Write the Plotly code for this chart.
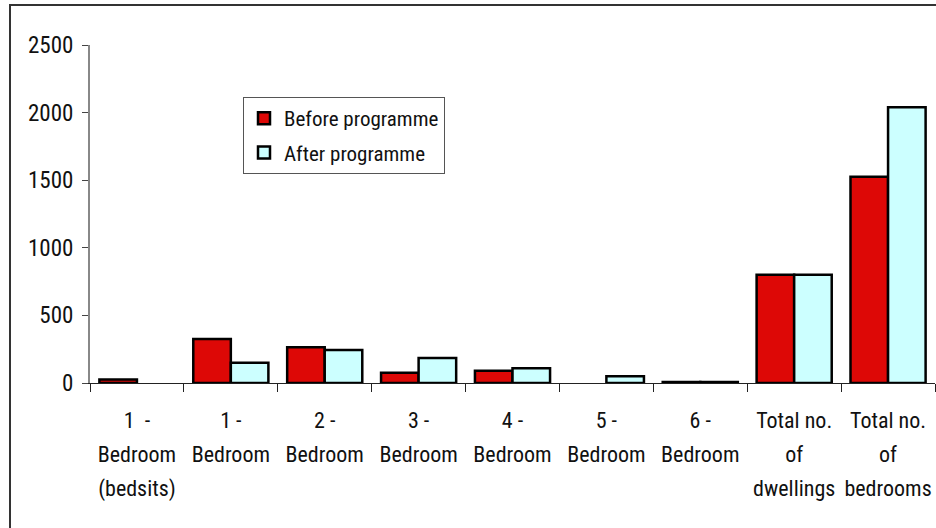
import plotly.graph_objects as go

category_lines = [["1  -", "Bedroom", "(bedsits)"], ["1 -", "Bedroom"], ["2 -", "Bedroom"],
                  ["3 -", "Bedroom"], ["4 -", "Bedroom"], ["5 -", "Bedroom"], ["6 -", "Bedroom"],
                  ["Total no.", "of", "dwellings"], ["Total no.", "of", "bedrooms"]]
before = [25, 325, 265, 75, 90, None, 8, 800, 1525]
after = [None, 150, 245, 185, 110, 50, 8, 800, 2040]
y_ticks = [0, 500, 1000, 1500, 2000, 2500]

categories = [" ".join(c) for c in category_lines]
tick_text = ["<br>".join("<span style='font-size:22px'>%s</span>" % s for s in c) for c in category_lines]

FONT = "Liberation Sans Narrow, Arial Narrow, Roboto Condensed, DejaVu Sans Condensed, sans-serif"

fig = go.Figure()
fig.add_trace(go.Bar(x=categories, y=before, name="Before programme", legendgroup="a",
                     marker=dict(color="#DD0806", line=dict(color="black", width=2.5))))
fig.add_trace(go.Bar(x=categories, y=after, name="After programme", legendgroup="b",
                     marker=dict(color="#CCFFFF", line=dict(color="black", width=2.5))))

W, H = 936, 528
L, R, T, B = 90, 1, 45, 145
pw, ph = W - L - R, H - T - B

def px(xp):
    return (xp - L) / pw

def py(yp):
    return (H - B - yp) / ph

fig.update_layout(
    width=W, height=H,
    margin=dict(l=L, r=R, t=T, b=B, pad=0, autoexpand=False),
    paper_bgcolor="white", plot_bgcolor="white",
    font=dict(family=FONT, size=22, color="#111111"),
    barmode="group", bargap=0.2, bargroupgap=0,
    showlegend=True,
    legend=dict(x=px(243), y=py(97), xanchor="left", yanchor="top",
                bordercolor="#555555", borderwidth=1, bgcolor="white",
                font=dict(family=FONT, size=21), tracegroupgap=4),
    xaxis=dict(showline=True, linecolor="#222222", linewidth=1,
               tickvals=categories, ticktext=tick_text,
               ticks="outside", tickson="boundaries", ticklen=8, tickcolor="#222222",
               ticklabelstandoff=13, tickangle=0, automargin=False,
               showgrid=False, tickfont=dict(family=FONT, size=26)),
    yaxis=dict(range=[0, 2500], tickvals=y_ticks, showline=True, linecolor="#888888",
               linewidth=2, ticks="outside", ticklen=6, tickcolor="#444444",
               ticklabelstandoff=4, automargin=False,
               showgrid=False, zeroline=False, tickfont=dict(family=FONT, size=23)),
    shapes=[dict(type="rect", xref="paper", yref="paper",
                 x0=px(10), x1=px(945), y0=py(540), y1=py(5),
                 line=dict(color="#333333", width=2), fillcolor="rgba(0,0,0,0)", layer="below")],
)

fig.write_html("out.html")
